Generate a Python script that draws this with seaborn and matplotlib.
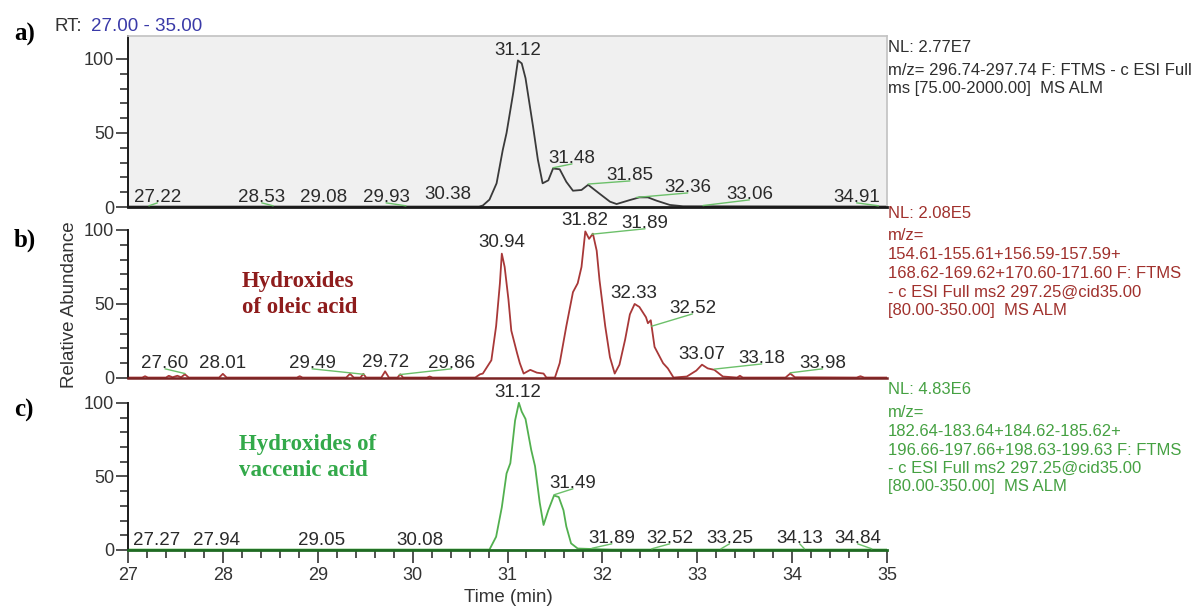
import numpy as np
import matplotlib
matplotlib.use("Agg")
import matplotlib.pyplot as plt
from matplotlib.ticker import FixedLocator, MultipleLocator
import seaborn as sns

# ---------------- chromatogram traces (time / min, relative abundance / %) ----------------
time_a = [27.00, 30.70, 30.74, 30.81, 30.885, 30.95, 30.99, 31.06, 31.11, 31.15, 31.19,
          31.27, 31.32, 31.37, 31.43, 31.48, 31.55, 31.62, 31.69, 31.78, 31.85, 31.97,
          32.08, 32.15, 32.29, 32.39, 32.48, 32.57, 32.71, 32.85, 35.00]
abund_a = [0.3, 0.3, 1.0, 5.0, 16.0, 38.5, 50.0, 77.0, 99.0, 97.0, 87.0,
           54.0, 32.0, 16.0, 18.0, 26.0, 25.5, 17.0, 11.0, 11.5, 15.0, 9.0,
           3.6, 2.0, 4.7, 6.5, 6.5, 4.3, 1.4, 0.5, 0.3]

time_b = [27.00, 27.15, 27.18, 27.21, 27.40, 27.43, 27.47, 27.52, 27.56, 27.60, 27.64,
          27.96, 28.00, 28.04, 28.78, 28.81, 28.84, 29.30, 29.34, 29.38, 29.45, 29.48,
          29.51, 29.67, 29.71, 29.75, 29.84, 29.87, 29.90, 30.15, 30.18, 30.21, 30.66,
          30.71, 30.74, 30.83, 30.88, 30.92, 30.94, 30.97, 31.01, 31.04, 31.10, 31.13,
          31.17, 31.24, 31.31, 31.38, 31.41, 31.50, 31.55, 31.62, 31.69, 31.74, 31.78,
          31.82, 31.86, 31.90, 31.94, 31.97, 32.03, 32.08, 32.13, 32.18, 32.24, 32.29,
          32.34, 32.39, 32.46, 32.48, 32.51, 32.55, 32.64, 32.69, 32.75, 32.89, 32.99,
          33.05, 33.11, 33.18, 33.27, 33.42, 33.45, 33.48, 33.93, 33.98, 34.03, 34.68,
          34.72, 34.76, 35.00]
abund_b = [0.3, 0.3, 1.2, 0.3, 0.3, 1.5, 0.5, 1.5, 0.5, 2.5, 0.3,
           0.3, 2.8, 0.3, 0.3, 1.2, 0.3, 0.3, 2.8, 0.3, 0.3, 2.8,
           0.3, 0.3, 4.5, 0.3, 0.3, 2.5, 0.3, 0.3, 1.0, 0.3, 0.3,
           2.5, 3.0, 12.0, 35.0, 64.0, 84.0, 75.0, 53.0, 32.0, 17.0, 10.0,
           3.0, 5.5, 3.6, 3.0, 0.3, 0.3, 10.0, 35.0, 58.0, 64.0, 75.0,
           99.0, 94.0, 97.5, 86.0, 66.0, 35.0, 14.0, 3.0, 9.0, 26.0, 43.0,
           50.0, 48.0, 41.0, 37.0, 39.0, 21.0, 10.0, 6.5, 0.3, 1.0, 5.0,
           9.0, 6.5, 5.5, 1.0, 0.3, 1.5, 0.3, 0.3, 3.0, 0.5, 0.3,
           1.2, 0.3, 0.3]

time_c = [27.00, 30.81, 30.88, 30.94, 30.99, 31.03, 31.08, 31.12, 31.15, 31.19, 31.25,
          31.29, 31.34, 31.38, 31.43, 31.49, 31.54, 31.59, 31.62, 31.67, 31.74, 31.97,
          32.10, 35.00]
abund_c = [0.3, 0.3, 9.0, 29.0, 52.0, 59.0, 88.0, 100.0, 94.0, 89.0, 68.0,
           57.0, 32.0, 17.0, 27.0, 37.0, 36.0, 27.0, 16.0, 4.5, 1.0, 0.5,
           0.3, 0.3]

# retention times printed on the peak labels
peaks_a = [27.22, 28.53, 29.08, 29.93, 30.38, 31.12, 31.48, 31.85, 32.36, 33.06, 34.91]
peaks_b = [27.60, 28.01, 29.49, 29.72, 29.86, 30.94, 31.82, 31.89, 32.33, 32.52, 33.07, 33.18, 33.98]
peaks_c = [27.27, 27.94, 29.05, 30.08, 31.12, 31.49, 31.89, 32.52, 33.25, 34.13, 34.84]

# scan-filter descriptions shown at the right of each trace
header_a = ["NL: 2.77E7",
            "m/z= 296.74-297.74 F: FTMS - c ESI Full",
            "ms [75.00-2000.00]  MS ALM"]
header_b = ["NL: 2.08E5",
            "m/z=",
            "154.61-155.61+156.59-157.59+",
            "168.62-169.62+170.60-171.60 F: FTMS",
            "- c ESI Full ms2 297.25@cid35.00",
            "[80.00-350.00]  MS ALM"]
header_c = ["NL: 4.83E6",
            "m/z=",
            "182.64-183.64+184.62-185.62+",
            "196.66-197.66+198.63-199.63 F: FTMS",
            "- c ESI Full ms2 297.25@cid35.00",
            "[80.00-350.00]  MS ALM"]

# ---------------- label layout (text centre x / min, text baseline y / %) ----------------
label_xy_a = [(27.31, 3.4), (28.41, 3.4), (29.06, 3.4), (29.72, 3.4), (30.37, 5.4),
              (31.11, 102.7), (31.68, 29.7), (32.29, 18.2), (32.90, 10.1), (33.55, 5.4),
              (34.68, 3.4)]
label_xy_b = [(27.39, 6.8), (27.996, 6.8), (28.94, 6.8), (29.71, 7.4), (30.41, 6.8),
              (30.94, 88.5), (31.82, 103.4), (32.45, 101.4), (32.33, 54.0), (32.95, 43.9),
              (33.05, 12.8), (33.68, 10.1), (34.32, 6.8)]
label_xy_c = [(27.306, 3.4), (27.93, 3.4), (29.04, 3.4), (30.08, 3.4), (31.11, 104.0),
              (31.69, 42.2), (32.10, 4.8), (32.71, 4.8), (33.34, 4.8), (34.08, 4.8),
              (34.69, 4.8)]

sns.set_theme(style="white")
plt.rcParams["font.family"] = ["Liberation Sans", "DejaVu Sans"]

W, H = 1197, 608
fig = plt.figure(figsize=(W / 100, H / 100), dpi=100)
fig.patch.set_facecolor("white")


def box(left, top, right, bottom):
    return [left / W, 1 - bottom / H, (right - left) / W, (bottom - top) / H]


def fxy(px, py):
    return px / W, 1 - py / H


X0, X1 = 128, 887
ax_a = fig.add_axes(box(X0, 36, X1, 207))
ax_b = fig.add_axes(box(X0, 207, X1, 378))
ax_c = fig.add_axes(box(X0, 380, X1, 550))

TXT = "#2a2a2a"
RED = "#a83838"
RED_TXT = "#a0302c"
GREEN = "#52b04f"
GREEN_TXT = "#45a142"
LINK = "#6cc06a"

panels = [
    (ax_a, time_a, abund_a, peaks_a, label_xy_a, "#3a3a3a"),
    (ax_b, time_b, abund_b, peaks_b, label_xy_b, RED),
    (ax_c, time_c, abund_c, peaks_c, label_xy_c, GREEN),
]

for ax, t, y, peaks, lxy, col in panels:
    sns.lineplot(x=t, y=y, ax=ax, color=col, linewidth=1.3, estimator=None, sort=False)
    ax.set_xlim(27, 35)
    ax.set_ylim(0, 115.5)
    ax.set_xlabel("")
    ax.set_ylabel("")
    ax.yaxis.set_major_locator(FixedLocator([0, 50, 100]))
    ax.yaxis.set_minor_locator(FixedLocator([10, 20, 30, 40, 60, 70, 80, 90]))
    ax.tick_params(axis="y", which="major", left=True, direction="out", length=9,
                   width=1.1, color="#222222", labelsize=13, labelcolor="#333333", pad=1)
    ax.tick_params(axis="y", which="minor", left=True, direction="out", length=6,
                   width=1.1, color="#222222")
    for s in ("top", "right"):
        ax.spines[s].set_visible(False)
    ax.spines["left"].set_color("#1a1a1a")
    ax.spines["left"].set_linewidth(1.4)
    for rt, (tx, ty) in zip(peaks, lxy):
        ax.text(tx, ty, f"{rt:.2f}", ha="center", va="baseline", fontsize=13.5,
                color=TXT, clip_on=False, zorder=5)
        if abs(tx - rt) > 0.04:
            y0 = float(np.interp(rt, t, y))
            ax.plot([rt, tx], [y0 + 0.5, ty - 0.6], color=LINK, linewidth=1.0,
                    clip_on=False, zorder=4)

# panel a: grey plotting area with a light frame
ax_a.set_facecolor("#f0f0f0")
ax_a.spines["top"].set_visible(True)
ax_a.spines["right"].set_visible(True)
ax_a.spines["top"].set_color("#c4c4c4")
ax_a.spines["right"].set_color("#c4c4c4")
ax_a.spines["bottom"].set_color("#1a1a1a")
ax_a.spines["bottom"].set_linewidth(2.0)

ax_b.set_facecolor("none")
ax_b.spines["left"].set_bounds(0, 100)
ax_b.spines["bottom"].set_color("#7a2424")
ax_b.spines["bottom"].set_linewidth(1.8)

ax_c.set_facecolor("none")
ax_c.spines["left"].set_bounds(0, 100)
ax_c.spines["bottom"].set_color("#1f6a22")
ax_c.spines["bottom"].set_linewidth(2.0)

for ax in (ax_a, ax_b):
    ax.tick_params(axis="x", which="both", bottom=False, labelbottom=False)

ax_c.xaxis.set_major_locator(MultipleLocator(1))
ax_c.xaxis.set_minor_locator(MultipleLocator(0.2))
ax_c.tick_params(axis="x", which="major", bottom=True, direction="out", length=9,
                 width=1.1, color="#222222", labelsize=13, labelcolor="#333333", pad=3)
ax_c.tick_params(axis="x", which="minor", bottom=True, direction="out", length=6,
                 width=1.1, color="#222222")

# compound annotations inside panels b and c
serif = ["Liberation Serif", "DejaVu Serif"]
fig.text(*fxy(242, 287), "Hydroxides", fontsize=16.5, fontweight="bold",
         family=serif, color="#8e1c1c", va="baseline")
fig.text(*fxy(242, 313), "of oleic acid", fontsize=16.5, fontweight="bold",
         family=serif, color="#8e1c1c", va="baseline")
fig.text(*fxy(239, 450), "Hydroxides of", fontsize=16.5, fontweight="bold",
         family=serif, color="#33a94a", va="baseline")
fig.text(*fxy(239, 476), "vaccenic acid", fontsize=16.5, fontweight="bold",
         family=serif, color="#33a94a", va="baseline")

# panel letters
for letter, py in (("a)", 34), ("b)", 240), ("c)", 410)):
    fig.text(*fxy(14, py), letter, fontsize=18, fontweight="bold", family=serif,
             color="black", va="center", ha="left")

# retention-time range
fig.text(*fxy(55, 31), "RT:", fontsize=13.5, color="#333333", va="baseline")
fig.text(*fxy(91, 31), "27.00 - 35.00", fontsize=13.5, color="#3a3aa8", va="baseline")

# scan headers at the right
for lines, ys, col in (
    (header_a, [52, 75, 93], "#2e2e2e"),
    (header_b, [218, 240, 259, 278, 297, 315], RED_TXT),
    (header_c, [394, 417, 436, 455, 473, 491], GREEN_TXT),
):
    for line, py in zip(lines, ys):
        fig.text(*fxy(888, py), line, fontsize=12, color=col, va="baseline", ha="left")

# axis titles
fig.text(*fxy(70, 305), "Relative Abundance", rotation=90, fontsize=13.5,
         color="#333333", ha="center", va="center")
fig.text(*fxy(508, 598), "Time (min)", fontsize=13.5, color="#333333",
         ha="center", va="center")

fig.savefig("out.png", dpi=100)
